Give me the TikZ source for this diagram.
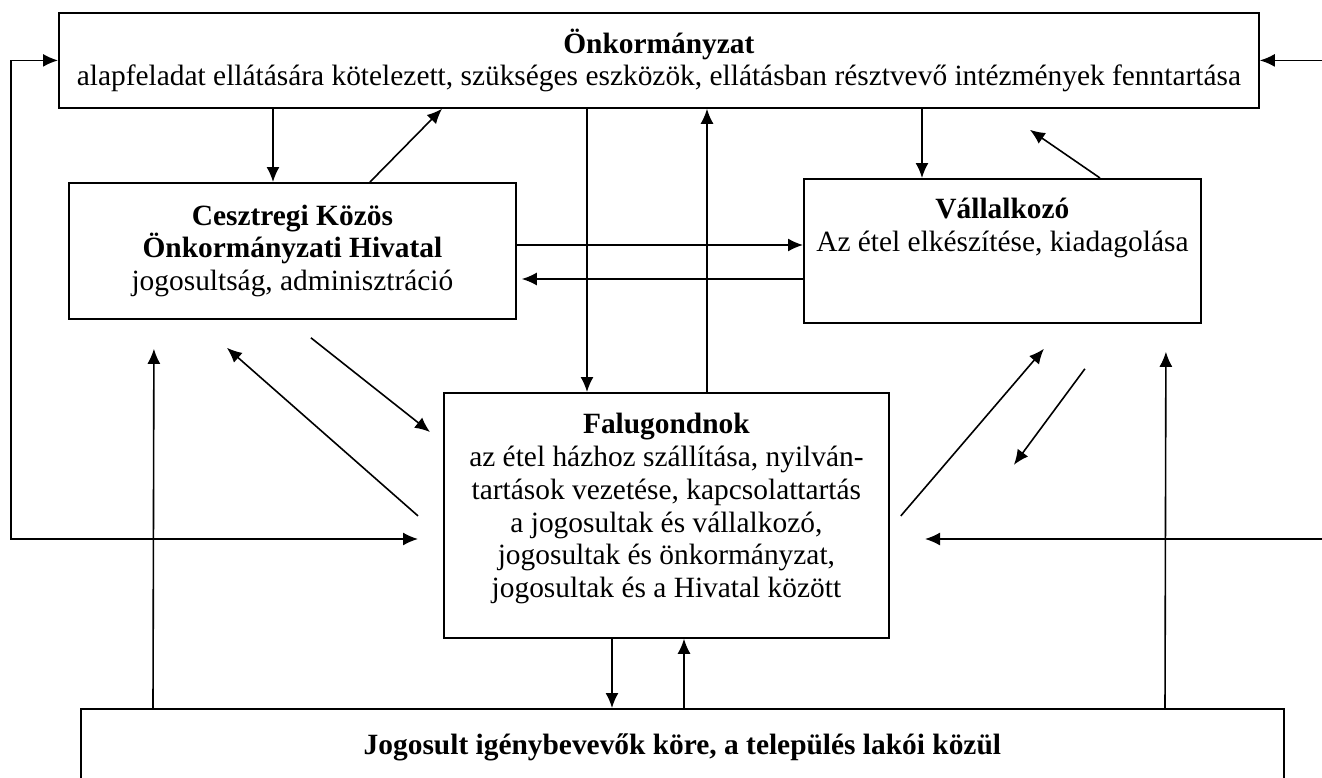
\documentclass[tikz,border=0pt]{standalone}
\usepackage{fontspec}
\setmainfont{Liberation Serif}
\usetikzlibrary{arrows.meta}

\tikzset{
  box/.style={draw, line width=0.9pt, inner sep=0pt, anchor=north west, align=center,
    font=\fontsize{14.7}{16.4}\selectfont},
  arr/.style={line width=0.8pt, -{Latex[length=7.5pt,width=6.5pt]}},
  dblarr/.style={line width=0.8pt, {Latex[length=7.5pt,width=6.5pt]}-{Latex[length=7.5pt,width=6.5pt]}},
}

\begin{document}
\begin{tikzpicture}[x=0.5pt, y=-0.5pt]
  \useasboundingbox (0,0) rectangle (1322,777);

  % Define nodes
  \node[box, minimum width=600pt, minimum height=47.5pt] (onk) at (58,12)
    {\textbf{Önkormányzat}\\alapfeladat ellátására kötelezett, szükséges eszközök, ellátásban résztvevő intézmények fenntartása};
  \node[box, minimum width=223.5pt, minimum height=68pt] (hiv) at (68,182)
    {\textbf{Cesztregi Közös}\\\textbf{Önkormányzati Hivatal}\\jogosultság, adminisztráció};
  \node[box, minimum width=198.5pt, minimum height=72pt, text depth=26pt] (vall) at (803,178)
    {\textbf{Vállalkozó}\\Az étel elkészítése, kiadagolása};
  \node[box, minimum width=222.5pt, minimum height=122.5pt, text depth=10pt] (falu) at (443,392)
    {\textbf{Falugondnok}\\az étel házhoz szállítása, nyilván-\\tartások vezetése, kapcsolattartás\\a jogosultak és vállalkozó,\\jogosultak és önkormányzat,\\jogosultak és a Hivatal között};
  \node[box, minimum width=601.5pt, minimum height=38pt] (jog) at (80,708)
    {\textbf{Jogosult igénybevevők köre, a település lakói közül}};

  % Outer loops
  \coordinate (lbend) at (11,539);
  \coordinate (ltip) at (418,539);
  \coordinate (rbend) at (1326,539);
  \coordinate (rtip) at (925,539);
  \draw[dblarr] (onk.west) -| (lbend) -- (ltip);
  \draw[dblarr] (onk.east) -| (rbend) -- (rtip);

  % Connect the nodes
  \draw[arr] (onk.south -| 273,0) -- (hiv.north -| 273,0);
  \draw[arr] (hiv.north -| 370,0) -- (onk.south -| 442,0);
  \draw[arr] (onk.south -| 587,0) -- (falu.north -| 587,0);
  \draw[arr] (falu.north -| 707,0) -- (onk.south -| 707,0);
  \draw[arr] (onk.south -| 922,0) -- (vall.north -| 922,0);
  \draw[arr] (vall.north -| 1100,0) -- ([shift={(371,21)}]onk.south);

  \draw[arr] (hiv.east |- 0,245) -- (vall.west |- 0,245);
  \draw[arr] (vall.west |- 0,279) -- ([xshift=2.5pt]hiv.east |- 0,279);

  \draw[arr] ([shift={(-25,0.5)}]falu.west) -- ([shift={(-65.5,28)}]hiv.south);
  \draw[arr] ([shift={(18.5,18)}]hiv.south) -- ([shift={(-13,40)}]falu.north west);
  \draw[arr] ([shift={(11,0.5)}]falu.east) -- ([shift={(41.5,25)}]vall.south);
  \draw[arr] ([shift={(82.5,45)}]vall.south) -- ([shift={(11.5,141)}]vall.south);

  \draw[arr] (jog.north -| 153,0) -- ([shift={(-138.5,29)}]hiv.south);
  \draw[arr] (jog.north -| 1165,0) -- ([shift={(163.5,28)}]vall.south);
  \draw[arr] (falu.south -| 612,0) -- (jog.north -| 612,0);
  \draw[arr] (jog.north -| 684,0) -- (falu.south -| 684,0);

\end{tikzpicture}
\end{document}
